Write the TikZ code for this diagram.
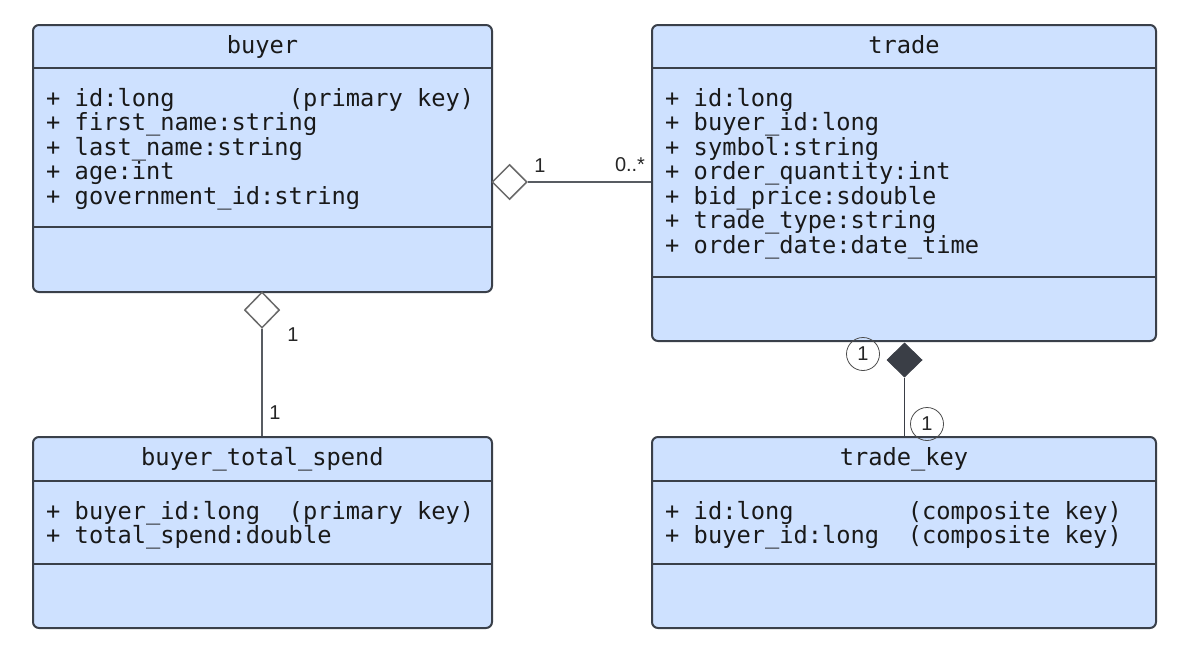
\documentclass[tikz,border=0pt]{standalone}
\usepackage{fontspec}
\newfontfamily\monof{DejaVu Sans Mono}
\newfontfamily\labf{Liberation Sans}
\usetikzlibrary{shapes.geometric}
\definecolor{boxfill}{RGB}{206,225,255}
\definecolor{boxline}{RGB}{58,64,74}
\definecolor{connc}{RGB}{88,92,98}
\definecolor{diac}{RGB}{105,105,105}
\definecolor{darkdia}{RGB}{58,62,70}
\begin{document}
\begin{tikzpicture}[x=1pt,y=-1pt,
  classbox/.style={draw=boxline, line width=2pt, fill=boxfill, rounded corners=6pt, inner sep=0pt},
  divider/.style={draw=boxline, line width=1.8pt},
  attrtext/.style={anchor=base west, inner sep=0pt, font=\monof\fontsize{23.7}{24}\selectfont, text=black!90},
  classtitle/.style={anchor=base, inner sep=0pt, font=\monof\fontsize{23.7}{24}\selectfont, text=black!90},
  connline/.style={draw=connc, line width=1.5pt},
  hollowdia/.style={diamond, draw=diac, fill=white, line width=1.5pt, inner sep=0pt, minimum width=35pt, minimum height=35pt},
  filleddia/.style={diamond, draw=darkdia, fill=darkdia, line width=1pt, inner sep=0pt, minimum width=35pt, minimum height=34pt},
  mult/.style={inner sep=0pt, font=\labf\fontsize{20}{22}\selectfont, text=black!85},
  multcirc/.style={circle, draw=black!70, line width=0.8pt, inner sep=0pt, minimum size=33pt, font=\labf\fontsize{20}{22}\selectfont, text=black!85}
]
\useasboundingbox (0,0) rectangle (1193,662);

% ---------- buyer ----------
\node[classbox, minimum width=459pt, minimum height=267pt] (buyer) at (262.5,158.5) {};
\draw[divider] (buyer.west |- 0,68) -- (buyer.east |- 0,68);
\draw[divider] (buyer.west |- 0,227) -- (buyer.east |- 0,227);
\node[classtitle] (buyerT) at (262.5,53) {buyer};
\node[attrtext] (b1) at (46,106) {+ id:long\ \ \ \ \ \ \ \ (primary key)};
\node[attrtext] (b2) at (46,130.5) {+ first\_name:string};
\node[attrtext] (b3) at (46,155) {+ last\_name:string};
\node[attrtext] (b4) at (46,179.5) {+ age:int};
\node[attrtext] (b5) at (46,204) {+ government\_id:string};

% ---------- trade ----------
\node[classbox, minimum width=504pt, minimum height=316pt] (trade) at (904,183) {};
\draw[divider] (trade.west |- 0,68) -- (trade.east |- 0,68);
\draw[divider] (trade.west |- 0,277) -- (trade.east |- 0,277);
\node[classtitle] (tradeT) at (904,53) {trade};
\node[attrtext] (t1) at (665,106) {+ id:long};
\node[attrtext] (t2) at (665,130.5) {+ buyer\_id:long};
\node[attrtext] (t3) at (665,155) {+ symbol:string};
\node[attrtext] (t4) at (665,179.5) {+ order\_quantity:int};
\node[attrtext] (t5) at (665,204) {+ bid\_price:sdouble};
\node[attrtext] (t6) at (665,228.5) {+ trade\_type:string};
\node[attrtext] (t7) at (665,253) {+ order\_date:date\_time};

% ---------- buyer_total_spend ----------
\node[classbox, minimum width=459pt, minimum height=191pt] (bts) at (262.5,532.5) {};
\draw[divider] (bts.west |- 0,481) -- (bts.east |- 0,481);
\draw[divider] (bts.west |- 0,564) -- (bts.east |- 0,564);
\node[classtitle] (btsT) at (262.5,465.5) {buyer\_total\_spend};
\node[attrtext] (s1) at (46,519) {+ buyer\_id:long\ \ (primary key)};
\node[attrtext] (s2) at (46,543) {+ total\_spend:double};

% ---------- trade_key ----------
\node[classbox, minimum width=504pt, minimum height=191pt] (tk) at (904,532.5) {};
\draw[divider] (tk.west |- 0,481) -- (tk.east |- 0,481);
\draw[divider] (tk.west |- 0,564) -- (tk.east |- 0,564);
\node[classtitle] (tkT) at (904,465.5) {trade\_key};
\node[attrtext] (k1) at (665,519) {+ id:long\ \ \ \ \ \ \ \ (composite key)};
\node[attrtext] (k2) at (665,543) {+ buyer\_id:long\ \ (composite key)};

% ---------- buyer -- trade (aggregation) ----------
\node[hollowdia] (d1) at (509.5,182) {};
\draw[connline] (d1.east) -- (d1.east -| trade.west);
\node[mult] (m1) at (540,166) {1};
\node[mult] (m2) at (630,165) {0..*};

% ---------- buyer -- buyer_total_spend (aggregation) ----------
\node[hollowdia, minimum height=36pt] (d2) at (262,310) {};
\draw[connline] (d2.south) -- (d2.south |- bts.north);
\node[mult] (m3) at (293,335) {1};
\node[mult] (m4) at (275,413) {1};

% ---------- trade -- trade_key (composition) ----------
\node[filleddia] (d3) at (904.5,360) {};
\draw[draw=darkdia, line width=1.8pt] (d3.south) -- (d3.south |- tk.north);
\node[multcirc] (c1) at (863,354) {1};
\node[multcirc] (c2) at (927,424) {1};
\end{tikzpicture}
\end{document}
